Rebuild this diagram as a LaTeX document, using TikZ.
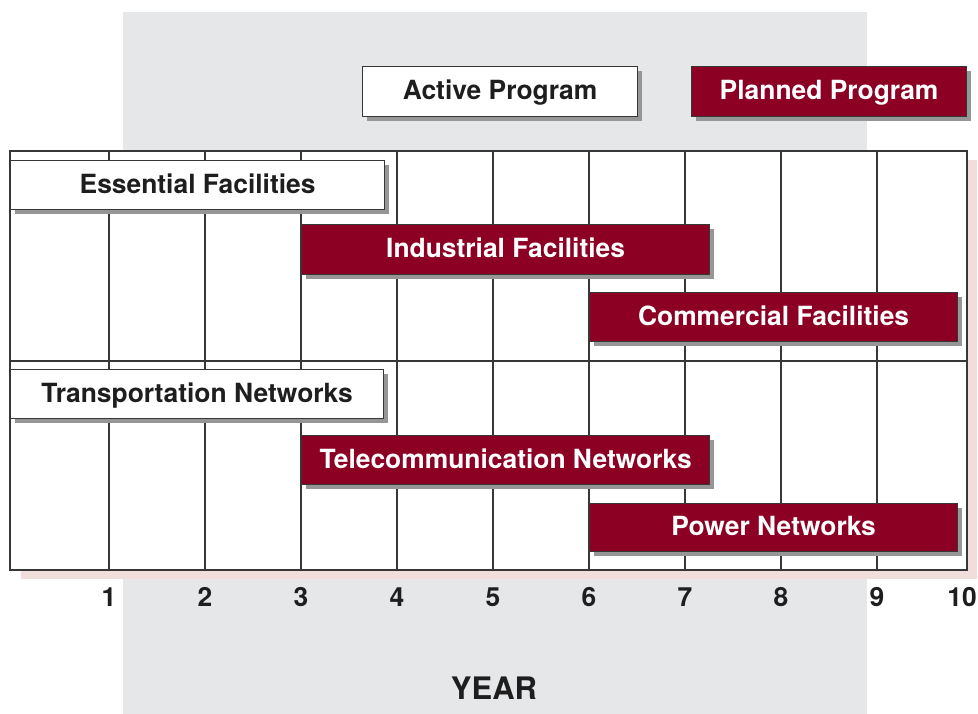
\documentclass[tikz,border=0pt]{standalone}
\usepackage{fontspec}
\setmainfont{TeX Gyre Heros}
\usetikzlibrary{shadows}
\definecolor{plannedred}{RGB}{140,0,36}
\definecolor{panelgray}{RGB}{230,231,233}
\definecolor{pinkshade}{RGB}{242,221,221}
\definecolor{boxshade}{RGB}{150,150,150}
\definecolor{gridline}{RGB}{55,55,55}
\definecolor{inkdark}{RGB}{30,30,30}
\tikzset{
  progbox/.style={draw=gridline, line width=1.2pt, anchor=north west,
    inner sep=0pt, text height=19pt, text depth=3pt,
    font=\fontsize{26.4}{30}\selectfont\bfseries,
    drop shadow={shadow xshift=4pt, shadow yshift=-4pt, fill=boxshade, opacity=1}},
  activebox/.style={progbox, fill=white, text=inkdark},
  plannedbox/.style={progbox, fill=plannedred, text=white},
  gridstroke/.style={draw=gridline, line width=1.3pt},
  yearlabel/.style={anchor=base, font=\fontsize{26.4}{30}\selectfont\bfseries, text=inkdark},
  axistitle/.style={anchor=base, font=\fontsize{31}{34}\selectfont\bfseries, text=inkdark}
}
\begin{document}
\begin{tikzpicture}[x=1pt,y=-1pt]
  \useasboundingbox (0,0) rectangle (978,714);
  % background panel
  \fill[panelgray] (123,12) rectangle (867,714);
  % legend
  \node[activebox, minimum width=275pt, minimum height=50pt] (active) at (362,66) {Active Program};
  \node[plannedbox, minimum width=275pt, minimum height=50pt] (planned) at (691,66) {Planned Program};
  % chart frame with its tinted offset
  \fill[pinkshade] (21,160) rectangle (977,579);
  \fill[white] (10,151) rectangle (967,570);
  \foreach \k in {0,...,8}{
    \draw[gridstroke] ({109+96*\k},151) -- ({109+96*\k},570);
  }
  \draw[gridstroke] (10,361) -- (967,361);
  \draw[gridstroke] (10,151) rectangle (967,570);
  % facilities
  \node[activebox, minimum width=374pt, minimum height=49pt] (ess) at (10,160) {Essential Facilities};
  \node[plannedbox, minimum width=408pt, minimum height=50pt] (ind) at (301,224) {Industrial Facilities};
  \node[plannedbox, minimum width=368pt, minimum height=49pt] (com) at (589,292) {Commercial Facilities};
  % networks
  \node[activebox, minimum width=373pt, minimum height=49pt] (trans) at (10,369) {Transportation Networks};
  \node[plannedbox, minimum width=408pt, minimum height=49pt] (tele) at (301,435) {Telecommunication Networks};
  \node[plannedbox, minimum width=368pt, minimum height=48pt] (power) at (589,503) {Power Networks};
  % year axis
  \foreach \k in {1,...,9}{
    \node[yearlabel] (y\k) at ({109+96*(\k-1)},606) {\k};
  }
  \node[yearlabel] (y10) at (962,606) {10};
  \node[axistitle] (year) at (494,699) {YEAR};
\end{tikzpicture}
\end{document}
